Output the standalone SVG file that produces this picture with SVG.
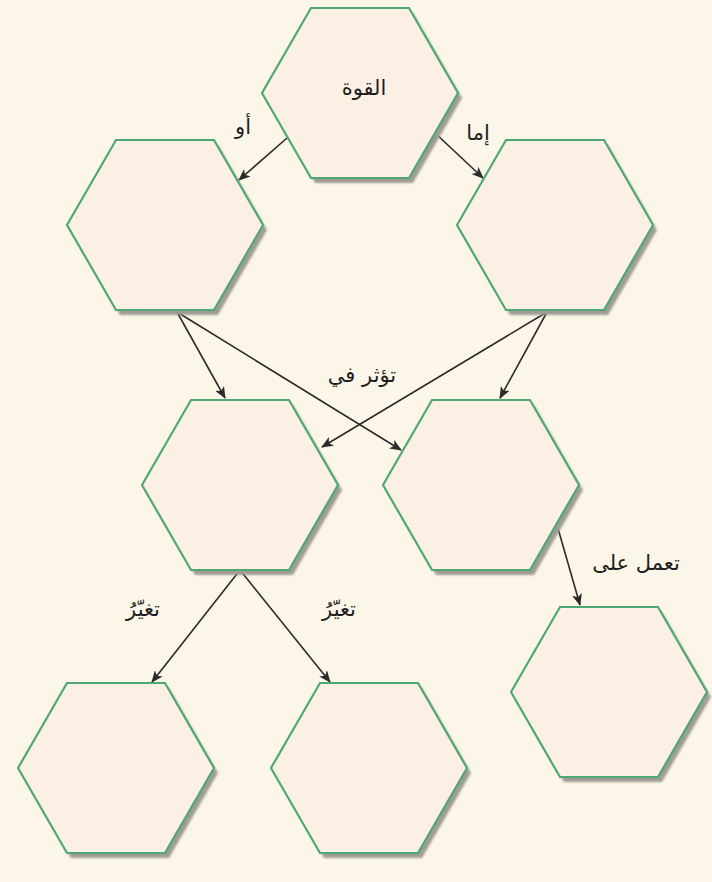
<svg xmlns="http://www.w3.org/2000/svg" width="712" height="882" viewBox="0 0 712 882">
<defs>
<style>
.hex{fill:#fcefe4;stroke:#4ea874;stroke-width:2.2;stroke-linejoin:miter}
.sh{fill:#9f9c96;filter:url(#blur)}
.con{stroke:#2b2b2b;stroke-width:1.6;fill:none;marker-end:url(#ah)}
.lbl{font-family:"DejaVu Sans",sans-serif;font-size:21px;fill:#1e1e1e;text-anchor:middle}
</style>
<filter id="blur" x="-10%" y="-10%" width="120%" height="120%"><feGaussianBlur stdDeviation="1.2"/></filter>
<marker id="ah" viewBox="0 0 12 10" refX="11" refY="5" markerWidth="12" markerHeight="10" markerUnits="userSpaceOnUse" orient="auto">
<path d="M0,0 L12,5 L0,10 L3,5 Z" fill="#2b2b2b"/>
</marker>
<polygon id="hx" points="-98,0 -49,-85 49,-85 98,0 49,85 -49,85"/>
</defs>
<rect width="712" height="882" fill="#fcf6e8"/>
<g id="connectors">
<line class="con" x1="287" y1="138" x2="239" y2="180"/>
<line class="con" x1="435" y1="133" x2="483" y2="178"/>
<line class="con" x1="177" y1="312" x2="225" y2="398"/>
<line class="con" x1="177" y1="312" x2="401" y2="450"/>
<line class="con" x1="547" y1="312" x2="322" y2="447"/>
<line class="con" x1="547" y1="312" x2="500" y2="398"/>
<line class="con" x1="557" y1="525" x2="580" y2="605"/>
<line class="con" x1="240" y1="570" x2="152" y2="682"/>
<line class="con" x1="240" y1="570" x2="330" y2="682"/>
</g>
<g id="n1" transform="translate(360,93)"><use href="#hx" class="sh" x="4" y="5"/><use href="#hx" class="hex"/><text class="lbl" x="4" y="2">القوة</text></g>
<g id="n2" transform="translate(165,225)"><use href="#hx" class="sh" x="4" y="5"/><use href="#hx" class="hex"/></g>
<g id="n3" transform="translate(555,225)"><use href="#hx" class="sh" x="4" y="5"/><use href="#hx" class="hex"/></g>
<g id="n4" transform="translate(240,485)"><use href="#hx" class="sh" x="4" y="5"/><use href="#hx" class="hex"/></g>
<g id="n5" transform="translate(481,485)"><use href="#hx" class="sh" x="4" y="5"/><use href="#hx" class="hex"/></g>
<g id="n6" transform="translate(609,692)"><use href="#hx" class="sh" x="4" y="5"/><use href="#hx" class="hex"/></g>
<g id="n7" transform="translate(116,768)"><use href="#hx" class="sh" x="4" y="5"/><use href="#hx" class="hex"/></g>
<g id="n8" transform="translate(369,768)"><use href="#hx" class="sh" x="4" y="5"/><use href="#hx" class="hex"/></g>
<g id="labels">
<text class="lbl" x="243" y="134">أو</text>
<text class="lbl" x="478" y="140">إما</text>
<text class="lbl" x="362" y="382">تؤثر في</text>
<text class="lbl" x="636" y="570">تعمل على</text>
<text class="lbl" x="143" y="616">تغيّرُ</text>
<text class="lbl" x="339" y="616">تغيّرُ</text>
</g>
</svg>
